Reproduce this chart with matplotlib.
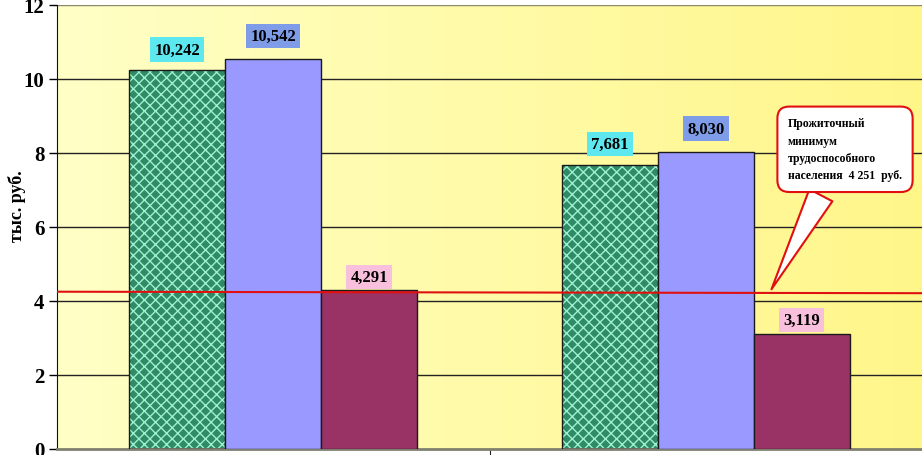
import numpy as np
import matplotlib.pyplot as plt
from matplotlib.colors import LinearSegmentedColormap

plt.rcParams['font.family'] = ['Liberation Serif', 'DejaVu Serif']
plt.rcParams['hatch.linewidth'] = 1.0

categories = [0, 1]
series_green = [10.242, 7.681]
series_blue = [10.542, 8.030]
series_red = [4.291, 3.119]
labels_green = ["10,242", "7,681"]
labels_blue = ["10,542", "8,030"]
labels_red = ["4,291", "3,119"]
subsistence_min = 4.251
callout_text = "Прожиточный\nминимум\nтрудоспособного\nнаселения  4 251  руб."
yticks = [0, 2, 4, 6, 8, 10, 12]

fig = plt.figure(figsize=(9.22, 4.56), dpi=100)
ax = fig.add_axes([57 / 922, 1 - 450 / 456, 1 - 57 / 922, 444 / 456])

# background gradient (left pale -> right more saturated yellow)
cmap = LinearSegmentedColormap.from_list("bg", ["#FFFFC6", "#FFF68A"])
grad = np.linspace(0, 1, 256).reshape(1, -1)
ax.imshow(grad, cmap=cmap, aspect='auto', extent=[-0.5, 1.5, 0, 12], zorder=0)

x = np.array(categories, dtype=float)
w = 96 / 433

for yv in yticks[1:]:
    ax.axhline(yv, color='#222222' if yv < 12 else '#8a8a6a', lw=1.0, zorder=1)

ax.bar(x - w, series_green, w, color='#2E8B66', edgecolor='#9FF0D0', hatch='xxx', lw=0, zorder=2)
ax.bar(x - w, series_green, w, fill=False, edgecolor='#1a1a1a', lw=1.0, zorder=3)
ax.bar(x, series_blue, w, color='#9999FF', edgecolor='#1a1a1a', lw=1.0, zorder=3)
ax.bar(x + w, series_red, w, color='#993366', edgecolor='#1a1a1a', lw=1.0, zorder=3)

def put_labels(xs, vals, texts, fc, off):
    for xi, v, t in zip(xs, vals, texts):
        ax.annotate(t, (xi, v), xytext=(0, off), textcoords='offset points',
                    ha='center', va='bottom', fontsize=12, fontweight='bold',
                    bbox=dict(boxstyle='square,pad=0.25', fc=fc, ec='none'), zorder=5)

put_labels(x - w, series_green, labels_green, '#5CE8EE', 9)
put_labels(x, series_blue, labels_blue, '#7E9CE8', 11)
put_labels(x + w, series_red, labels_red, '#F8C0DC', 4)

ax.plot([-0.5, 1.5], [subsistence_min, subsistence_min - 0.04], color='#E01010', lw=1.5, zorder=4)

ax.annotate(callout_text, xy=(1.149, subsistence_min), xytext=(1.322, 8.1),
            ha='center', va='center', fontsize=8.5, fontweight='bold', multialignment='left',
            linespacing=1.6,
            bbox=dict(boxstyle='round,pad=0.9,rounding_size=1.0', fc='white', ec='#E01010', lw=1.5),
            arrowprops=dict(arrowstyle='wedge,tail_width=2.2,shrink_factor=0.5', fc='white', ec='#E01010', lw=1.5),
            zorder=6)

ax.set_xlim(-0.5, 1.5)
ax.set_ylim(0, 12)
ax.set_yticks(yticks)
ax.set_yticklabels([str(t) for t in yticks], fontsize=15, fontweight='bold')
ax.set_xticks([0.5])
ax.set_xticklabels([''])
ax.tick_params(axis='x', length=8, color='#222222', direction='out')
ax.tick_params(axis='y', length=6, width=1, direction='out', pad=3)
for s in ['top', 'right']:
    ax.spines[s].set_visible(False)
ax.spines['bottom'].set_color('#808070')
ax.spines['bottom'].set_linewidth(2)
ax.spines['left'].set_color('#111111')
ax.set_ylabel("тыс. руб.", fontsize=13, fontweight='bold')
ax.yaxis.set_label_coords(-0.036, 0.55)

fig.savefig("out.png", dpi=100)
